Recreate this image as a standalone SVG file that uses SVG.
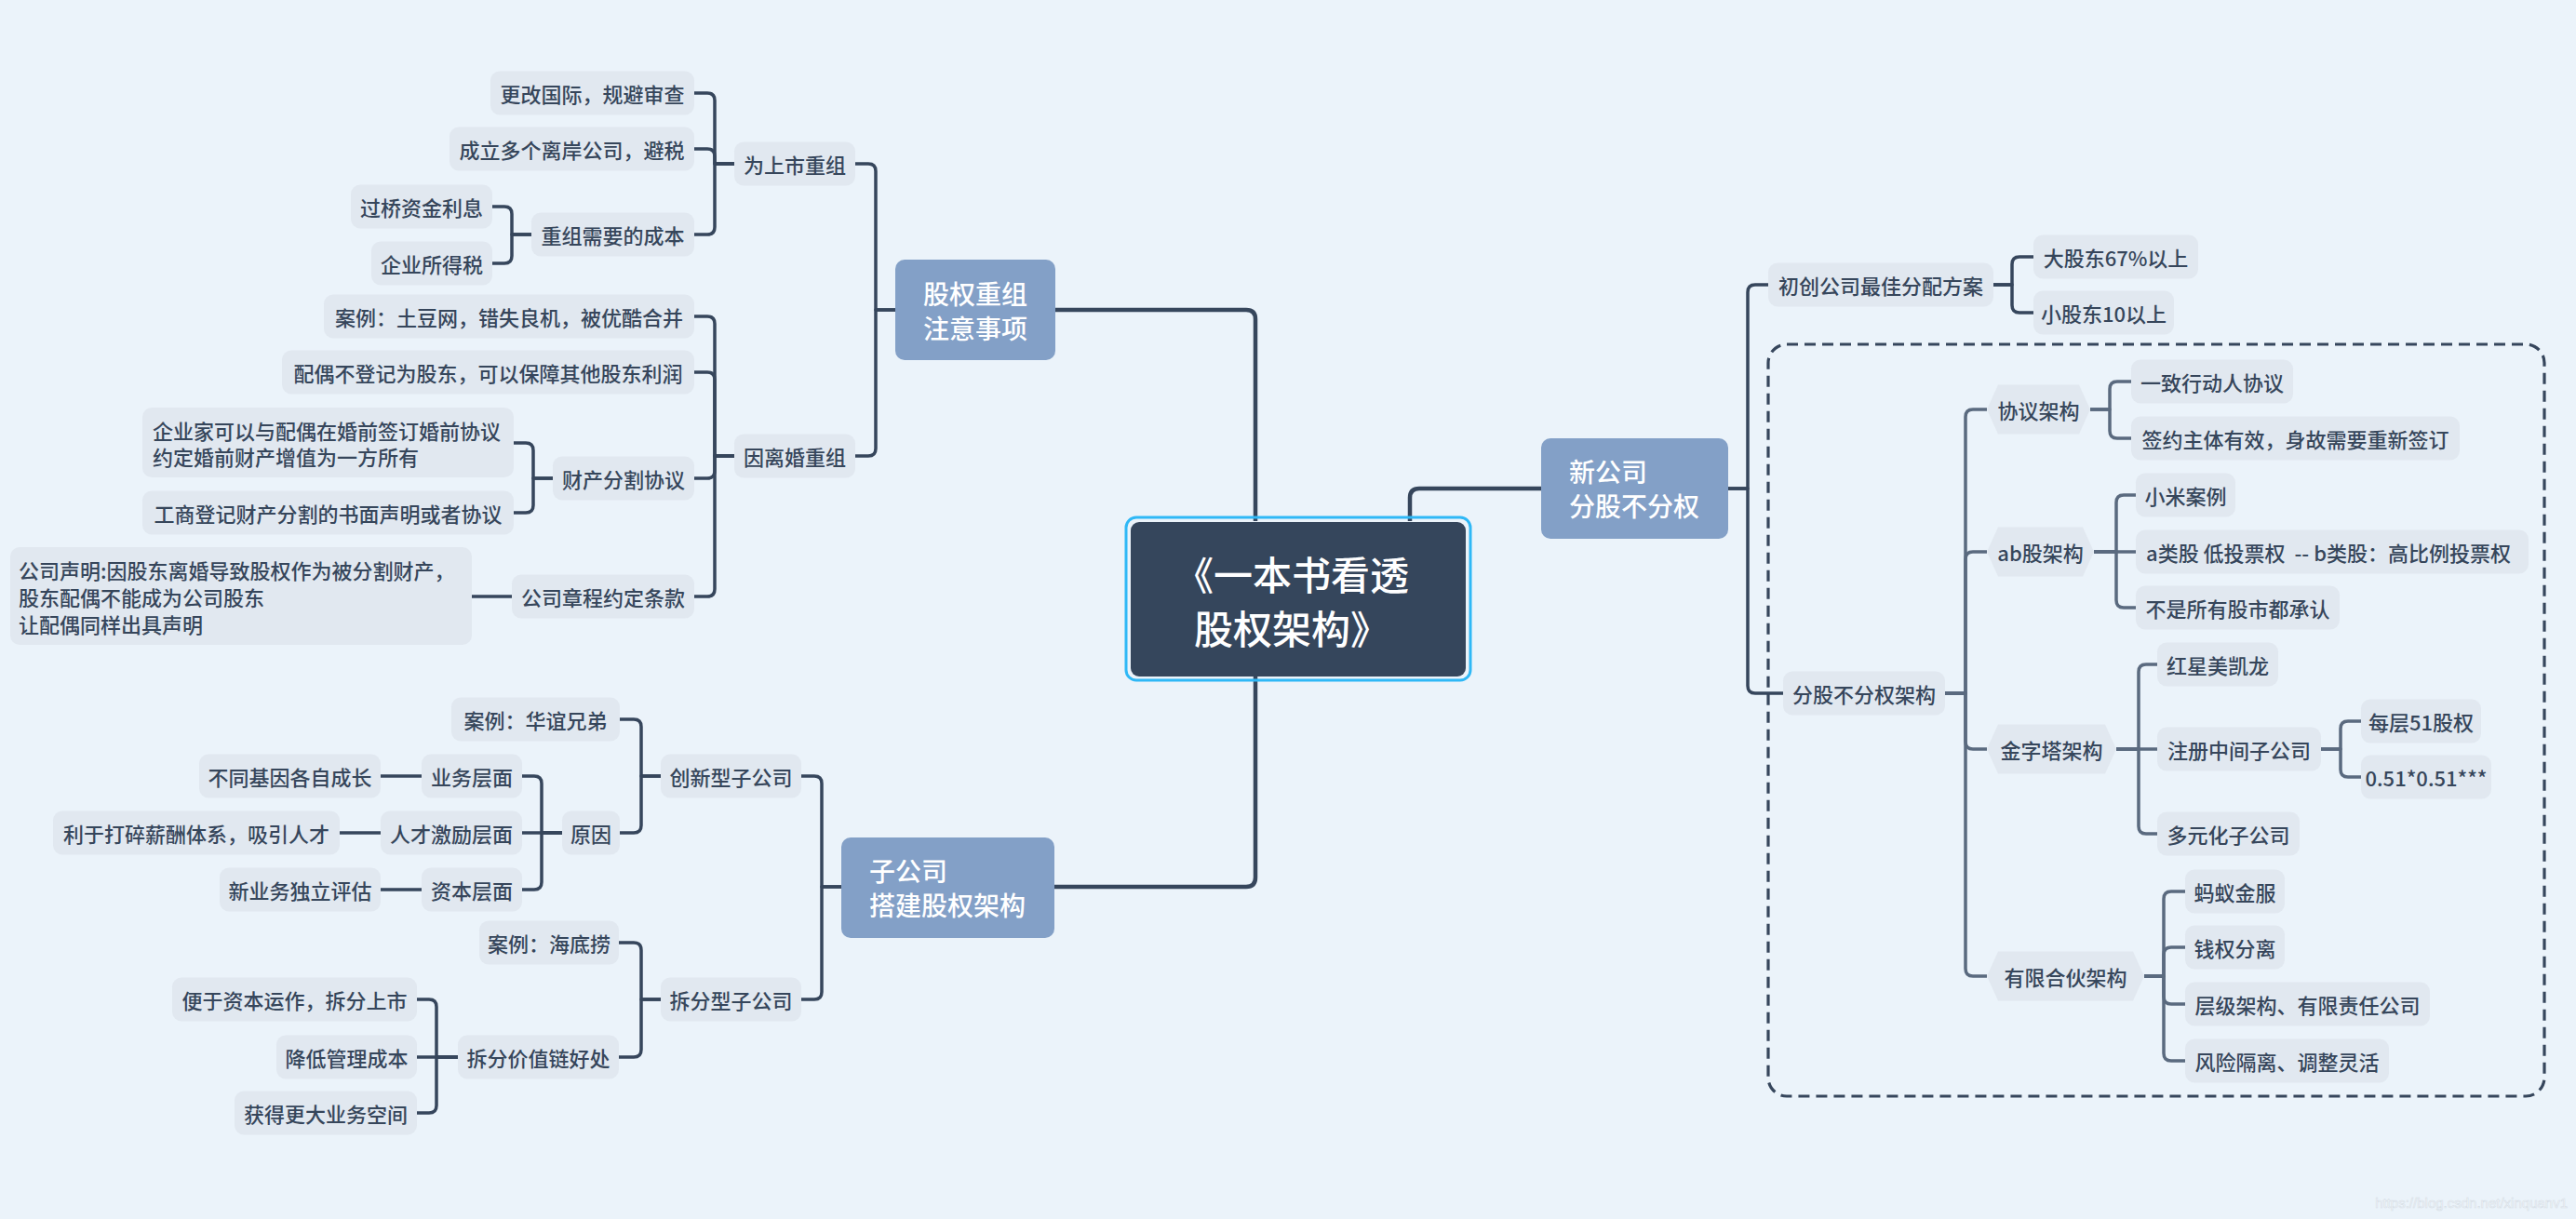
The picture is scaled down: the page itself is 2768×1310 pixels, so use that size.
<svg xmlns="http://www.w3.org/2000/svg" width="2768" height="1310" viewBox="0 0 2768 1310">
<style>
.t{font-family:"Noto Sans CJK SC","Noto Sans",sans-serif;font-size:22px;font-weight:500;fill:#36465b;dominant-baseline:central}
.m{text-anchor:middle}
.leaf{fill:#e1e8f0}
.l1{fill:#83a0c7}
.t1{font-family:"Noto Sans CJK SC","Noto Sans",sans-serif;font-size:28px;font-weight:500;fill:#ffffff;dominant-baseline:central}
.t0{font-family:"Noto Sans CJK SC","Noto Sans",sans-serif;font-size:42px;font-weight:500;fill:#ffffff;dominant-baseline:central}
.c path{fill:none;stroke:#36465c;stroke-width:3.5;stroke-linejoin:round}
.c .c0{stroke-width:4.5}
.c .c2{stroke:#5a6a7f}
.pre{white-space:pre}
</style>
<rect width="2768" height="1310" fill="#ebf3fa"/>
<rect x="1900" y="370" width="834" height="808" rx="20" fill="none" stroke="#36465c" stroke-width="3.2" stroke-dasharray="12 7"/>
<g class="c" id="connectors">
<path class="c0" d="M1349 560 V343 Q1349 333 1339 333 H1134"/>
<path class="c0" d="M1349 727 V943 Q1349 953 1339 953 H1133"/>
<path class="c0" d="M1515 560 V535 Q1515 525 1525 525 H1656"/>
<path d="M962 333 H941 V184 Q941 176 933 176 H919"/>
<path d="M962 333 H941 V482 Q941 490 933 490 H919"/>
<path d="M789 176 H768 V108 Q768 100 760 100 H746"/>
<path d="M789 176 H768 V168 Q768 160 760 160 H746"/>
<path d="M789 176 H768 V244 Q768 252 760 252 H746"/>
<path d="M571 252 H550 V230 Q550 222 542 222 H529"/>
<path d="M571 252 H550 V275 Q550 283 542 283 H529"/>
<path d="M789 490 H768 V348 Q768 340 760 340 H746"/>
<path d="M789 490 H768 V408 Q768 400 760 400 H746"/>
<path d="M789 490 H768 V506 Q768 514 760 514 H746"/>
<path d="M789 490 H768 V633 Q768 641 760 641 H746"/>
<path d="M594 514 H573 V484 Q573 476 565 476 H552"/>
<path d="M594 514 H573 V543 Q573 551 565 551 H552"/>
<path d="M550 641 H507"/>
<path d="M904 953 H883 V842 Q883 834 875 834 H861"/>
<path d="M904 953 H883 V1066 Q883 1074 875 1074 H861"/>
<path d="M710 834 H689 V781 Q689 773 681 773 H666"/>
<path d="M710 834 H689 V887 Q689 895 681 895 H666"/>
<path d="M604 895 H582 V842 Q582 834 574 834 H561"/>
<path d="M604 895 H561"/>
<path d="M604 895 H582 V948 Q582 956 574 956 H561"/>
<path d="M453 834 H409"/>
<path d="M409 895 H365"/>
<path d="M453 956 H409"/>
<path d="M710 1074 H689 V1021 Q689 1013 681 1013 H665"/>
<path d="M710 1074 H689 V1128 Q689 1136 681 1136 H665"/>
<path d="M492 1136 H469 V1082 Q469 1074 461 1074 H448"/>
<path d="M492 1136 H448"/>
<path d="M492 1136 H469 V1188 Q469 1196 461 1196 H448"/>
<path d="M1857 525 H1878 V314 Q1878 306 1886 306 H1900"/>
<path d="M1857 525 H1878 V737 Q1878 745 1886 745 H1916"/>
<path d="M2142 306 H2162 V284 Q2162 276 2170 276 H2185"/>
<path d="M2142 306 H2162 V328 Q2162 336 2170 336 H2185"/>
<path class="c2" d="M2090 745 H2112 V448 Q2112 440 2120 440 H2135"/>
<path class="c2" d="M2090 745 H2112 V601 Q2112 593 2120 593 H2135"/>
<path class="c2" d="M2090 745 H2112 V797 Q2112 805 2120 805 H2135"/>
<path class="c2" d="M2090 745 H2112 V1041 Q2112 1049 2120 1049 H2135"/>
<path class="c2" d="M2246 440 H2267 V418 Q2267 410 2275 410 H2290"/>
<path class="c2" d="M2246 440 H2267 V463 Q2267 471 2275 471 H2290"/>
<path class="c2" d="M2250 593 H2274 V540 Q2274 532 2282 532 H2295"/>
<path class="c2" d="M2250 593 H2295"/>
<path class="c2" d="M2250 593 H2274 V645 Q2274 653 2282 653 H2295"/>
<path class="c2" d="M2274 805 H2298 V722 Q2298 714 2306 714 H2318"/>
<path class="c2" d="M2274 805 H2318"/>
<path class="c2" d="M2274 805 H2298 V888 Q2298 896 2306 896 H2318"/>
<path class="c2" d="M2494 805 H2515 V783 Q2515 775 2523 775 H2537"/>
<path class="c2" d="M2494 805 H2515 V827 Q2515 835 2523 835 H2537"/>
<path class="c2" d="M2304 1049 H2325 V966 Q2325 958 2333 958 H2348"/>
<path class="c2" d="M2304 1049 H2325 V1026 Q2325 1018 2333 1018 H2348"/>
<path class="c2" d="M2304 1049 H2325 V1071 Q2325 1079 2333 1079 H2348"/>
<path class="c2" d="M2304 1049 H2325 V1132 Q2325 1140 2333 1140 H2348"/>
</g>
<g id="root">
<rect x="1210" y="556" width="370" height="175" rx="11" fill="none" stroke="#2fb8f6" stroke-width="3"/>
<rect x="1215" y="561" width="360" height="166" rx="9" fill="#35465c"/>
<text class="t0" x="1262" y="615">《一本书看透</text>
<text class="t0" x="1283" y="673">股权架构》</text>
</g>
<g id="n-gqcz"><rect class="l1" x="962" y="279" width="172" height="108" rx="10"/><text class="t1 m" x="1048" y="315">股权重组</text><text class="t1 m" x="1048" y="352">注意事项</text></g>
<g id="n-zgs"><rect class="l1" x="904" y="900" width="229" height="108" rx="10"/><text class="t1" x="934" y="935">子公司</text><text class="t1" x="934" y="972">搭建股权架构</text></g>
<g id="n-xgs"><rect class="l1" x="1656" y="471" width="201" height="108" rx="10"/><text class="t1" x="1686" y="506">新公司</text><text class="t1" x="1686" y="543">分股不分权</text></g>
<g id="n1"><rect class="leaf" x="527" y="76.5" width="219" height="47" rx="10"/><text class="t m" x="636.5" y="100">更改国际，规避审查</text></g>
<g id="n2"><rect class="leaf" x="483" y="136.5" width="263" height="47" rx="10"/><text class="t m" x="614.5" y="160">成立多个离岸公司，避税</text></g>
<g id="n3"><rect class="leaf" x="789" y="152.5" width="130" height="47" rx="10"/><text class="t m" x="854" y="176">为上市重组</text></g>
<g id="n4"><rect class="leaf" x="377" y="198.5" width="152" height="47" rx="10"/><text class="t m" x="453" y="222">过桥资金利息</text></g>
<g id="n5"><rect class="leaf" x="571" y="228.5" width="175" height="47" rx="10"/><text class="t m" x="658.5" y="252">重组需要的成本</text></g>
<g id="n6"><rect class="leaf" x="399" y="259.5" width="130" height="47" rx="10"/><text class="t m" x="464" y="283">企业所得税</text></g>
<g id="n7"><rect class="leaf" x="348" y="316.5" width="398" height="47" rx="10"/><text class="t m" x="547" y="340">案例：土豆网，错失良机，被优酷合并</text></g>
<g id="n8"><rect class="leaf" x="303" y="376.5" width="443" height="47" rx="10"/><text class="t m" x="524.5" y="400">配偶不登记为股东，可以保障其他股东利润</text></g>
<g id="n9"><rect class="leaf" x="153" y="438" width="399" height="75" rx="10"/><text class="t" x="164" y="462">企业家可以与配偶在婚前签订婚前协议</text><text class="t" x="164" y="490">约定婚前财产增值为一方所有</text></g>
<g id="n10"><rect class="leaf" x="789" y="466.5" width="130" height="47" rx="10"/><text class="t m" x="854" y="490">因离婚重组</text></g>
<g id="n11"><rect class="leaf" x="594" y="490.5" width="152" height="47" rx="10"/><text class="t m" x="670" y="514">财产分割协议</text></g>
<g id="n12"><rect class="leaf" x="153" y="527.5" width="399" height="47" rx="10"/><text class="t m" x="352.5" y="551">工商登记财产分割的书面声明或者协议</text></g>
<g id="n13"><rect class="leaf" x="11" y="588" width="496" height="105" rx="10"/><text class="t" x="20" y="612">公司声明:因股东离婚导致股权作为被分割财产，</text><text class="t" x="20" y="641">股东配偶不能成为公司股东</text><text class="t" x="20" y="670">让配偶同样出具声明</text></g>
<g id="n14"><rect class="leaf" x="550" y="617.5" width="196" height="47" rx="10"/><text class="t m" x="648" y="641">公司章程约定条款</text></g>
<g id="n15"><rect class="leaf" x="485" y="749.5" width="181" height="47" rx="10"/><text class="t m" x="575.5" y="773">案例：华谊兄弟</text></g>
<g id="n16"><rect class="leaf" x="710" y="810.5" width="151" height="47" rx="10"/><text class="t m" x="785.5" y="834">创新型子公司</text></g>
<g id="n17"><rect class="leaf" x="214" y="810.5" width="195" height="47" rx="10"/><text class="t m" x="311.5" y="834">不同基因各自成长</text></g>
<g id="n18"><rect class="leaf" x="453" y="810.5" width="108" height="47" rx="10"/><text class="t m" x="507" y="834">业务层面</text></g>
<g id="n19"><rect class="leaf" x="57" y="871.5" width="308" height="47" rx="10"/><text class="t m" x="211" y="895">利于打碎薪酬体系，吸引人才</text></g>
<g id="n20"><rect class="leaf" x="409" y="871.5" width="152" height="47" rx="10"/><text class="t m" x="485" y="895">人才激励层面</text></g>
<g id="n21"><rect class="leaf" x="604" y="871.5" width="62" height="47" rx="10"/><text class="t m" x="635" y="895">原因</text></g>
<g id="n22"><rect class="leaf" x="236" y="932.5" width="173" height="47" rx="10"/><text class="t m" x="322.5" y="956">新业务独立评估</text></g>
<g id="n23"><rect class="leaf" x="453" y="932.5" width="108" height="47" rx="10"/><text class="t m" x="507" y="956">资本层面</text></g>
<g id="n24"><rect class="leaf" x="515" y="989.5" width="150" height="47" rx="10"/><text class="t m" x="590" y="1013">案例：海底捞</text></g>
<g id="n25"><rect class="leaf" x="710" y="1050.5" width="151" height="47" rx="10"/><text class="t m" x="785.5" y="1074">拆分型子公司</text></g>
<g id="n26"><rect class="leaf" x="185" y="1050.5" width="263" height="47" rx="10"/><text class="t m" x="316.5" y="1074">便于资本运作，拆分上市</text></g>
<g id="n27"><rect class="leaf" x="297" y="1112.5" width="151" height="47" rx="10"/><text class="t m" x="372.5" y="1136">降低管理成本</text></g>
<g id="n28"><rect class="leaf" x="492" y="1112.5" width="173" height="47" rx="10"/><text class="t m" x="578.5" y="1136">拆分价值链好处</text></g>
<g id="n29"><rect class="leaf" x="252" y="1172.5" width="196" height="47" rx="10"/><text class="t m" x="350" y="1196">获得更大业务空间</text></g>
<g id="n30"><rect class="leaf" x="1900" y="282.5" width="242" height="47" rx="10"/><text class="t m" x="2021" y="306">初创公司最佳分配方案</text></g>
<g id="n31"><rect class="leaf" x="2185" y="252.5" width="177" height="47" rx="10"/><text class="t m" x="2273.5" y="276">大股东67%以上</text></g>
<g id="n32"><rect class="leaf" x="2185" y="312.5" width="151" height="47" rx="10"/><text class="t m" x="2260.5" y="336">小股东10以上</text></g>
<g id="n33"><rect class="leaf" x="1916" y="721.5" width="174" height="47" rx="10"/><text class="t m" x="2003" y="745">分股不分权架构</text></g>
<g id="n34"><polygon class="leaf" points="2135,440 2147,413.5 2234,413.5 2246,440 2234,466.5 2147,466.5"/><text class="t m" x="2190.5" y="440">协议架构</text></g>
<g id="n35"><rect class="leaf" x="2290" y="386.5" width="174" height="47" rx="10"/><text class="t m" x="2377" y="410">一致行动人协议</text></g>
<g id="n36"><rect class="leaf" x="2290" y="447.5" width="353" height="47" rx="10"/><text class="t m" x="2466.5" y="471">签约主体有效，身故需要重新签订</text></g>
<g id="n37"><polygon class="leaf" points="2135,593 2147,566.5 2238,566.5 2250,593 2238,619.5 2147,619.5"/><text class="t m" x="2192.5" y="593">ab股架构</text></g>
<g id="n38"><rect class="leaf" x="2295" y="508.5" width="107" height="47" rx="10"/><text class="t m" x="2348.5" y="532">小米案例</text></g>
<g id="n39"><rect class="leaf" x="2295" y="569.5" width="422" height="47" rx="10"/><text class="t pre" x="2306" y="593">a类股 低投票权  -- b类股：高比例投票权</text></g>
<g id="n40"><rect class="leaf" x="2295" y="629.5" width="219" height="47" rx="10"/><text class="t m" x="2404.5" y="653">不是所有股市都承认</text></g>
<g id="n41"><polygon class="leaf" points="2135,805 2147,778.5 2262,778.5 2274,805 2262,831.5 2147,831.5"/><text class="t m" x="2204.5" y="805">金字塔架构</text></g>
<g id="n42"><rect class="leaf" x="2318" y="690.5" width="130" height="47" rx="10"/><text class="t m" x="2383" y="714">红星美凯龙</text></g>
<g id="n43"><rect class="leaf" x="2318" y="781.5" width="176" height="47" rx="10"/><text class="t m" x="2406" y="805">注册中间子公司</text></g>
<g id="n44"><rect class="leaf" x="2318" y="872.5" width="153" height="47" rx="10"/><text class="t m" x="2394.5" y="896">多元化子公司</text></g>
<g id="n45"><rect class="leaf" x="2537" y="751.5" width="129" height="47" rx="10"/><text class="t m" x="2601.5" y="775">每层51股权</text></g>
<g id="n46"><rect class="leaf" x="2537" y="811.5" width="140" height="47" rx="10"/><text class="t m" x="2607" y="835">0.51*0.51***</text></g>
<g id="n47"><polygon class="leaf" points="2135,1049 2147,1022.5 2292,1022.5 2304,1049 2292,1075.5 2147,1075.5"/><text class="t m" x="2219.5" y="1049">有限合伙架构</text></g>
<g id="n48"><rect class="leaf" x="2348" y="934.5" width="107" height="47" rx="10"/><text class="t m" x="2401.5" y="958">蚂蚁金服</text></g>
<g id="n49"><rect class="leaf" x="2348" y="994.5" width="107" height="47" rx="10"/><text class="t m" x="2401.5" y="1018">钱权分离</text></g>
<g id="n50"><rect class="leaf" x="2348" y="1055.5" width="263" height="47" rx="10"/><text class="t m" x="2479.5" y="1079">层级架构、有限责任公司</text></g>
<g id="n51"><rect class="leaf" x="2348" y="1116.5" width="219" height="47" rx="10"/><text class="t m" x="2457.5" y="1140">风险隔离、调整灵活</text></g>
<text x="2759" y="1298" text-anchor="end" font-family="Liberation Sans, Arial, sans-serif" font-size="15" fill="#f8fbfd" stroke="#d5dde6" stroke-width="0.6">https://blog.csdn.net/xinquanv1</text>
</svg>
